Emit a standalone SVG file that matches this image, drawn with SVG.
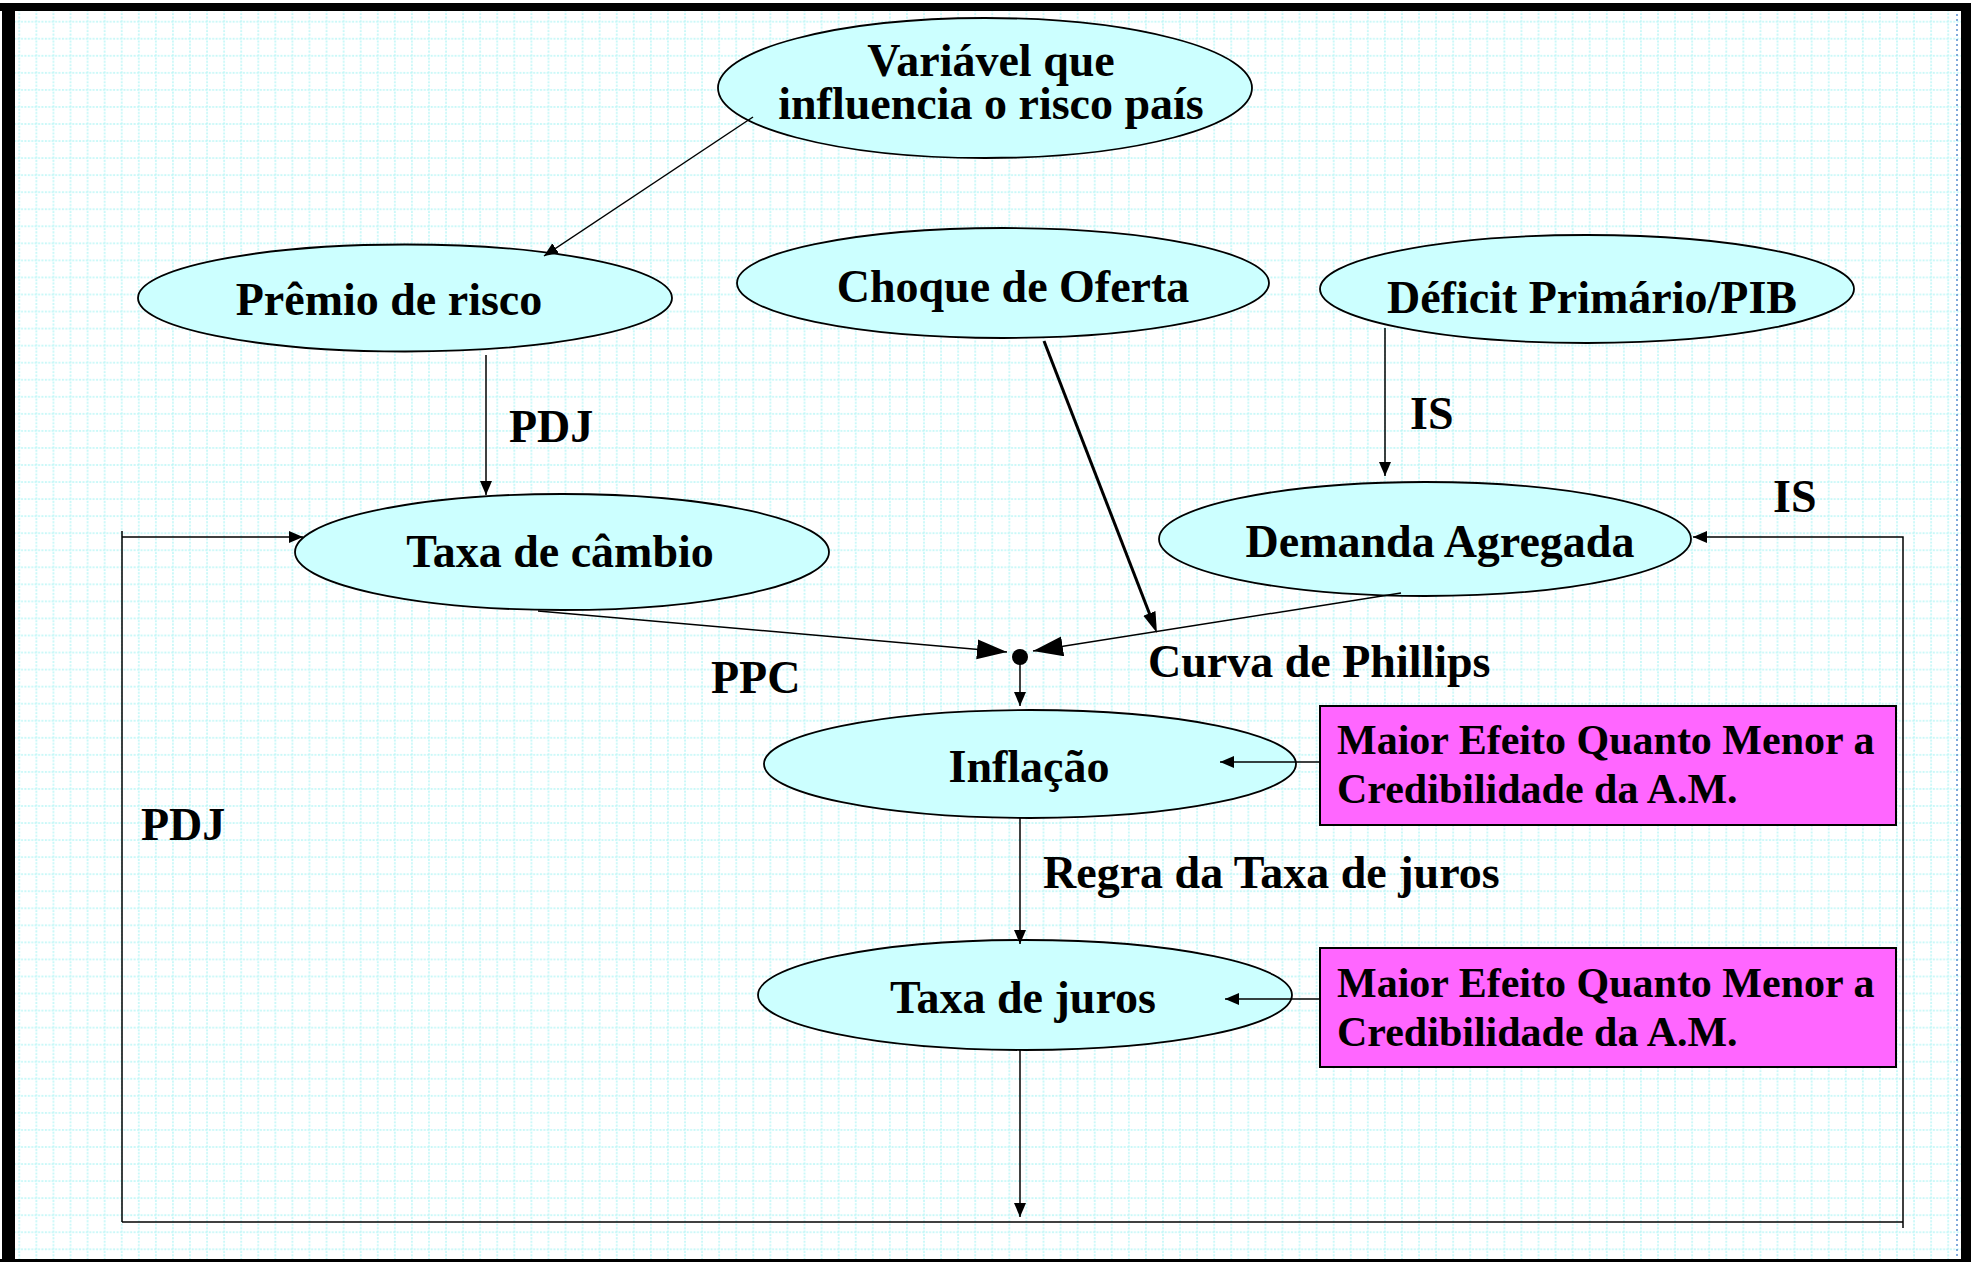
<svg xmlns="http://www.w3.org/2000/svg" width="1971" height="1262" viewBox="0 0 1971 1262">
<style>
.node ellipse{fill:#ccffff;stroke:#000;stroke-width:1.8}
.box rect{fill:#ff66ff;stroke:#000;stroke-width:2}
text{font-family:"Liberation Serif","Times New Roman",serif;font-weight:bold;fill:#000}
.t{font-size:46px}
.tm{font-size:46px;text-anchor:middle}
.tb{font-size:42px}
.c{fill:none;stroke:#000;stroke-width:1.5}
.thick{fill:none;stroke:#000;stroke-width:3}
.gl{stroke:#b8f6f6;stroke-width:1.4;stroke-dasharray:2 1.4}
</style>
<defs>
<pattern id="grid" patternUnits="userSpaceOnUse" x="10.77" y="13.17" width="17.07" height="17.05">
<line class="gl" x1="8.53" y1="0" x2="8.53" y2="17.05"/>
<line class="gl" x1="0" y1="8.53" x2="17.07" y2="8.53"/>
</pattern>
<marker id="sm" markerUnits="userSpaceOnUse" markerWidth="15" markerHeight="13" refX="14" refY="6" orient="auto">
<path d="M0,0 L14,6 L0,12 z" fill="#000"/>
</marker>
<marker id="big" markerUnits="userSpaceOnUse" markerWidth="31" markerHeight="21" refX="30" refY="10" orient="auto">
<path d="M0,0 L30,10 L0,20 z" fill="#000"/>
</marker>
<marker id="nar" markerUnits="userSpaceOnUse" markerWidth="22" markerHeight="14" refX="10" refY="6.5" orient="auto">
<path d="M0,0 L21,6.5 L0,13 z" fill="#000"/>
</marker>
</defs>

<!-- background and frame -->
<rect x="0" y="0" width="1971" height="1262" fill="#fff"/>
<rect x="15" y="11" width="1946" height="1248" fill="url(#grid)"/>
<rect x="2" y="3" width="13" height="1259" fill="#000"/>
<rect x="0" y="3" width="1971" height="8" fill="#000"/>
<rect x="1961" y="3" width="10" height="1259" fill="#000"/>
<rect x="0" y="1259" width="1971" height="3" fill="#000"/>
<line x1="1957" y1="14" x2="1957" y2="1256" stroke="#5b8fd0" stroke-width="1.5" stroke-dasharray="2 3"/>

<g id="labels">
<text class="t" x="509" y="442">PDJ</text>
<text class="t" x="1410" y="429">IS</text>
<text class="t" x="1773" y="512">IS</text>
<text class="t" x="711" y="693">PPC</text>
<text class="t" x="1148" y="677">Curva de Phillips</text>
<text class="t" x="141" y="840">PDJ</text>
<text class="t" x="1043" y="888">Regra da Taxa de juros</text>
</g>

<g id="n-variavel" class="node">
<ellipse cx="985" cy="88" rx="267" ry="70"/>
<text class="tm" x="991" y="76">Variável que</text>
<text class="tm" x="991" y="119">influencia o risco país</text>
</g>
<g id="n-premio" class="node">
<ellipse cx="405" cy="298" rx="267" ry="53.5"/>
<text class="tm" x="389" y="315">Prêmio de risco</text>
</g>
<g id="n-choque" class="node">
<ellipse cx="1003" cy="283" rx="266" ry="55"/>
<text class="tm" x="1013" y="302">Choque de Oferta</text>
</g>
<g id="n-deficit" class="node">
<ellipse cx="1587" cy="289" rx="267" ry="54"/>
<text class="tm" x="1592" y="313">Déficit Primário/PIB</text>
</g>
<g id="n-cambio" class="node">
<ellipse cx="562" cy="552" rx="267" ry="58"/>
<text class="tm" x="560" y="567">Taxa de câmbio</text>
</g>
<g id="n-demanda" class="node">
<ellipse cx="1425" cy="539" rx="266" ry="57"/>
<text class="tm" x="1440" y="557">Demanda Agregada</text>
</g>
<g id="n-inflacao" class="node">
<ellipse cx="1030" cy="764" rx="266" ry="54"/>
<text class="tm" x="1029" y="782">Inflação</text>
</g>
<g id="n-juros" class="node">
<ellipse cx="1025" cy="995" rx="267" ry="55"/>
<text class="tm" x="1023" y="1013">Taxa de juros</text>
</g>
<g id="n-box1" class="box">
<rect x="1320" y="706" width="576" height="119"/>
<text class="tb" x="1337" y="754">Maior Efeito Quanto Menor a</text>
<text class="tb" x="1337" y="803">Credibilidade da A.M.</text>
</g>
<g id="n-box2" class="box">
<rect x="1320" y="948" width="576" height="119"/>
<text class="tb" x="1337" y="997">Maior Efeito Quanto Menor a</text>
<text class="tb" x="1337" y="1046">Credibilidade da A.M.</text>
</g>

<g id="connectors">
<line class="c" x1="753" y1="117" x2="544" y2="256" marker-end="url(#sm)"/>
<line class="c" x1="486" y1="355" x2="486" y2="495" marker-end="url(#sm)"/>
<line class="thick" x1="1044" y1="341" x2="1153" y2="622.7" marker-end="url(#nar)"/>
<line class="c" x1="1401" y1="593" x2="1033" y2="651" marker-end="url(#big)"/>
<line class="c" x1="538" y1="611" x2="1007" y2="652" marker-end="url(#big)"/>
<line class="c" x1="1020" y1="664" x2="1020" y2="706" marker-end="url(#sm)"/>
<line class="c" x1="1319" y1="762" x2="1220" y2="762" marker-end="url(#sm)"/>
<line class="c" x1="1020" y1="818" x2="1020" y2="944" marker-end="url(#sm)"/>
<line class="c" x1="1320" y1="999" x2="1225" y2="999" marker-end="url(#sm)"/>
<line class="c" x1="1020" y1="1050" x2="1020" y2="1217" marker-end="url(#sm)"/>
<line class="c" x1="1385" y1="328" x2="1385" y2="476" marker-end="url(#sm)"/>
<line class="c" x1="122" y1="1222" x2="1903" y2="1222"/>
<path class="c" d="M122,1222 V531 M122,537 H303" marker-end="url(#sm)"/>
<path class="c" d="M1903,1228 V537 H1693" marker-end="url(#sm)"/>
<circle cx="1020" cy="657" r="8" fill="#000"/>
</g>
</svg>
